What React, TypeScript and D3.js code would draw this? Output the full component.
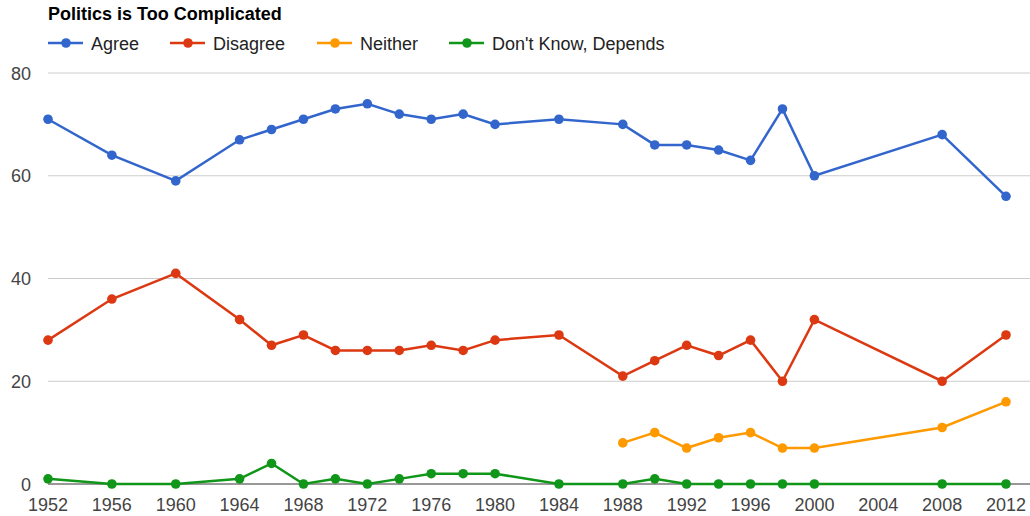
import React from "react";
import * as d3 from "d3";

const years = [1952, 1956, 1960, 1964, 1966, 1968, 1970, 1972, 1974, 1976, 1978, 1980, 1984, 1988, 1990, 1992, 1994, 1996, 1998, 2000, 2008, 2012];
const agree = [71, 64, 59, 67, 69, 71, 73, 74, 72, 71, 72, 70, 71, 70, 66, 66, 65, 63, 73, 60, 68, 56];
const disagree = [28, 36, 41, 32, 27, 29, 26, 26, 26, 27, 26, 28, 29, 21, 24, 27, 25, 28, 20, 32, 20, 29];
const neither = [null, null, null, null, null, null, null, null, null, null, null, null, null, 8, 10, 7, 9, 10, 7, 7, 11, 16];
const dontKnow = [1, 0, 0, 1, 4, 0, 1, 0, 1, 2, 2, 2, 0, 0, 1, 0, 0, 0, 0, 0, 0, 0];
const seriesNames = ["Agree", "Disagree", "Neither", "Don't Know, Depends"];
const xTicks = [1952, 1956, 1960, 1964, 1968, 1972, 1976, 1980, 1984, 1988, 1992, 1996, 2000, 2004, 2008, 2012];
const yTicks = [0, 20, 40, 60, 80];
const title = "Politics is Too Complicated";

const colors = ["#3366cc", "#dc3912", "#ff9900", "#109618"];
const font = "Arial, 'Liberation Sans', sans-serif";

const App = () => {
    const svgRef = React.useRef<SVGSVGElement>(null);
    const width = 1030;
    const height = 516;

    React.useEffect(() => {
        const svg = d3.select(svgRef.current);
        svg.selectAll("*").remove();

        const x = d3.scaleLinear().domain([1952, 2012]).range([48, 1006]);
        const y = d3.scaleLinear().domain([0, 80]).range([484, 73]);

        // 제목
        svg.append("text")
            .attr("x", 48)
            .attr("y", 19.5)
            .attr("font-family", font)
            .attr("font-size", 18)
            .attr("font-weight", "bold")
            .attr("fill", "#000")
            .text(title);

        // 범례
        const legendX = [48, 170, 317, 449];
        const legend = svg.append("g").attr("font-family", font).attr("font-size", 18);
        seriesNames.forEach((name, i) => {
            const g = legend.append("g").attr("transform", `translate(${legendX[i]},43)`);
            g.append("line").attr("x1", 0).attr("x2", 35).attr("y1", 0).attr("y2", 0)
                .attr("stroke", colors[i]).attr("stroke-width", 2.5);
            g.append("circle").attr("cx", 18).attr("cy", 0).attr("r", 4.8).attr("fill", colors[i]);
            g.append("text").attr("x", 43).attr("y", 6.5).attr("fill", "#222").text(name);
        });

        // 그리드
        svg.append("g")
            .selectAll("line")
            .data(yTicks.filter((t) => t !== 0))
            .enter()
            .append("line")
            .attr("x1", 48)
            .attr("x2", 1030)
            .attr("y1", (d) => y(d))
            .attr("y2", (d) => y(d))
            .attr("stroke", "#cccccc")
            .attr("stroke-width", 1);

        svg.append("g")
            .attr("font-family", font)
            .attr("font-size", 18)
            .selectAll("text")
            .data(yTicks)
            .enter()
            .append("text")
            .attr("x", 31)
            .attr("y", (d) => y(d) + 6.5)
            .attr("text-anchor", "end")
            .attr("fill", "#444")
            .text((d) => d);

        svg.append("g")
            .attr("font-family", font)
            .attr("font-size", 18)
            .selectAll("text")
            .data(xTicks)
            .enter()
            .append("text")
            .attr("x", (d) => x(d))
            .attr("y", 511)
            .attr("text-anchor", "middle")
            .attr("fill", "#444")
            .text((d) => d);

        // 0 기준선
        svg.append("line")
            .attr("x1", 48)
            .attr("x2", 1030)
            .attr("y1", y(0))
            .attr("y2", y(0))
            .attr("stroke", "#333")
            .attr("stroke-width", 1);

        // 선과 점
        const allSeries = [agree, disagree, neither, dontKnow];
        const line = d3
            .line<[number, number | null]>()
            .defined((d) => d[1] !== null)
            .x((d) => x(d[0]))
            .y((d) => y(d[1] as number));

        allSeries.forEach((vals, i) => {
            const pts: [number, number | null][] = years.map((yr, j) => [yr, vals[j]]);
            svg.append("path")
                .attr("fill", "none")
                .attr("stroke", colors[i])
                .attr("stroke-width", 2.5)
                .attr("d", line(pts));
            svg.append("g")
                .selectAll("circle")
                .data(pts.filter((p) => p[1] !== null))
                .enter()
                .append("circle")
                .attr("cx", (d) => x(d[0]))
                .attr("cy", (d) => y(d[1] as number))
                .attr("r", 4.8)
                .attr("fill", colors[i]);
        });
    }, []);

    return (
        <div style={{ position: "absolute", left: 0, top: 0 }}>
            <svg ref={svgRef} width={width} height={height} style={{ display: "block", background: "#fff" }} />
        </div>
    );
};

export default App;
